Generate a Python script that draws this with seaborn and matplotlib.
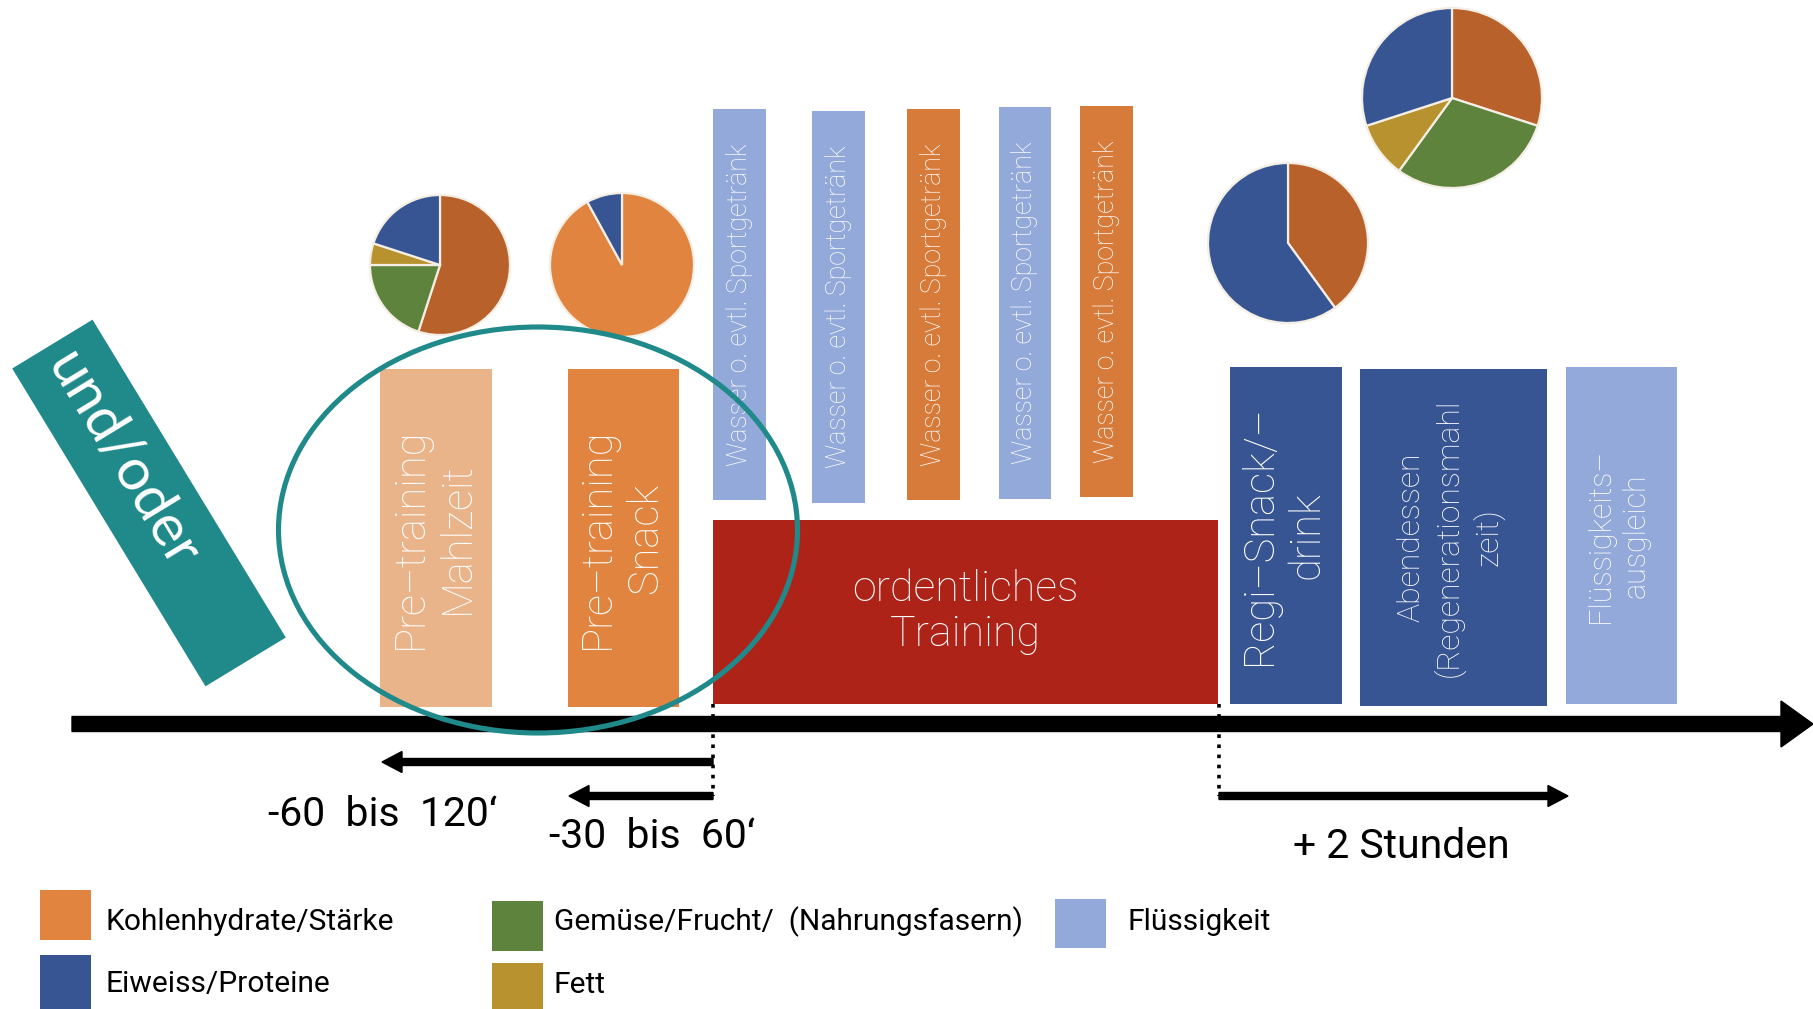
import matplotlib
matplotlib.use("Agg")
import matplotlib.pyplot as plt
from matplotlib.patches import Rectangle, Ellipse
import seaborn as sns

# ---------------------------------------------------------------- data
# Nutrient shares per meal (order: carbohydrates, vegetables/fruit, fat, protein)
pie_mahlzeit = [55, 20, 5, 20]
pie_snack = [92, 8]                 # carbohydrates, protein
pie_regi = [40, 60]                 # carbohydrates, protein
pie_abend = [30, 30, 10, 30]        # carbohydrates, vegetables, fat, protein

pre_labels = ["Pre–training\nMahlzeit", "Pre–training\nSnack"]
drink_label = "Wasser o. evtl. Sportgetränk"
drink_kinds = ["fluid", "fluid", "carb", "fluid", "carb"]
training_label = "ordentliches\nTraining"
post_labels = ["Regi–Snack/–\ndrink",
               "Abendessen\n(Regenerationsmahl\nzeit)",
               "Flüssigkeits–\nausgleich"]
time_labels = ["-60  bis  120‘", "-30  bis  60‘", "+ 2 Stunden"]
legend_labels = ["Kohlenhydrate/Stärke", "Eiweiss/Proteine",
                 "Gemüse/Frucht/  (Nahrungsfasern)", "Fett", "Flüssigkeit"]
banner_label = "und/oder"

# ---------------------------------------------------------------- style
C_CARB = "#E0843F"
C_CARB_DARK = "#B8612A"
C_PROT = "#385593"
C_VEG = "#5E833D"
C_FAT = "#B8922F"
C_FLUID = "#93A9D9"
C_MEAL = "#EAB48A"
C_DRINK_CARB = "#D77B3B"
C_TRAIN = "#AE2318"
C_TEAL = "#20898A"

sns.set_theme(style="white")
plt.rcParams["font.family"] = ["Roboto", "DejaVu Sans"]
LIGHT = "light"

W, H = 1813, 1009
fig = plt.figure(figsize=(W / 100, H / 100), dpi=100)
ax = fig.add_axes([0, 0, 1, 1])


def Y(v):
    """Convert a top-down pixel row to the axis' upward y."""
    return H - v


def box(x0, x1, top, bottom, color, label=None, size=20, rot=90,
        tcolor="white", linespacing=1.1, dx=0):
    ax.bar(x0, bottom - top, width=x1 - x0, bottom=Y(bottom), align="edge",
           color=color, linewidth=0, zorder=2)
    if label is not None:
        ax.text((x0 + x1) / 2 + dx, Y((top + bottom) / 2), label, rotation=rot,
                ha="center", va="center", color=tcolor, fontsize=size,
                fontweight=LIGHT, linespacing=linespacing, zorder=3,
                rotation_mode="anchor")


# ---------------------------------------------------------------- boxes
pre_geom = [(380, 492, 369, 707), (568, 679, 369, 707)]
pre_colors = [C_MEAL, C_CARB]
for (x0, x1, t, b), col, lab in zip(pre_geom, pre_colors, pre_labels):
    box(x0, x1, t, b, col, lab, size=30, linespacing=1.2, dx=-2)

drink_geom = [(713, 766, 109, 500), (812, 865, 111, 503), (907, 960, 109, 500),
              (999, 1051, 107, 499), (1080, 1133, 106, 497)]
for (x0, x1, t, b), kind in zip(drink_geom, drink_kinds):
    col = C_FLUID if kind == "fluid" else C_DRINK_CARB
    box(x0, x1, t, b, col, drink_label, size=19.3)

box(713, 1218, 520, 704, C_TRAIN, training_label, size=31, rot=0,
    linespacing=1.1)

post_geom = [(1230, 1342, 367, 704), (1360, 1547, 369, 706), (1566, 1677, 367, 704)]
post_colors = [C_PROT, C_PROT, C_FLUID]
post_sizes = [30, 23, 22]
post_spacing = [1.2, 1.3, 1.3]
for (x0, x1, t, b), col, lab, s, ls in zip(post_geom, post_colors, post_labels,
                                          post_sizes, post_spacing):
    box(x0, x1, t, b, col, lab, size=s, linespacing=ls, dx=-3)

# ---------------------------------------------------------------- pies
pies = [
    (pie_mahlzeit, [C_CARB_DARK, C_VEG, C_FAT, C_PROT], (440, 265), 70),
    (pie_snack, [C_CARB, C_PROT], (622, 265), 72),
    (pie_regi, [C_CARB_DARK, C_PROT], (1288, 243), 80),
    (pie_abend, [C_CARB_DARK, C_VEG, C_FAT, C_PROT], (1452, 98), 90),
]
for vals, cols, (cx, cy), r in pies:
    ax.pie(vals, colors=cols, startangle=90, counterclock=False,
           center=(cx, Y(cy)), radius=r, frame=True,
           wedgeprops=dict(edgecolor="#F4EEE4", linewidth=1.6, zorder=2))

# ---------------------------------------------------------------- timeline
ax.arrow(72, Y(724), W - 72, 0, width=15, head_width=46, head_length=32,
         length_includes_head=True, color="black", zorder=4)

arrow_kw = dict(width=7, head_width=21, head_length=20,
                length_includes_head=True, color="black", zorder=4)
ax.arrow(713, Y(762), 382 - 713, 0, **arrow_kw)
ax.arrow(713, Y(796), 569 - 713, 0, **arrow_kw)
ax.arrow(1219, Y(796), 1568 - 1219, 0, **arrow_kw)

for xv in (713, 1219):
    ax.plot([xv, xv], [Y(704), Y(796)], color="black", lw=2.6,
            linestyle=(0, (1.0, 1.8)), zorder=4)

time_pos = [(383, 814), (652, 837), (1401, 846)]
for (tx, ty), lab in zip(time_pos, time_labels):
    ax.text(tx, Y(ty), lab, ha="center", va="center", fontsize=29.5,
            fontweight="normal", color="black", zorder=5)

# ---------------------------------------------------------------- highlight ring
ax.add_patch(Ellipse((538, Y(530)), 519, 406, fill=False, edgecolor=C_TEAL,
                     linewidth=3.7, zorder=6))

# ---------------------------------------------------------------- banner
ax.add_patch(Rectangle((149 - 186, Y(503) - 47), 372, 94, angle=-58.7,
                       rotation_point="center", color=C_TEAL, linewidth=0,
                       zorder=3))
ax.text(122, Y(460), banner_label, rotation=-58.7, rotation_mode="anchor",
        ha="center", va="center", color="white", fontsize=42,
        family=["Lato", "DejaVu Sans"], zorder=4)

# ---------------------------------------------------------------- legend
legend_geom = [(40, 890, 91, 940, C_CARB), (40, 955, 91, 1009, C_PROT),
               (492, 901, 543, 951, C_VEG), (492, 963, 543, 1013, C_FAT),
               (1055, 899, 1106, 948, C_FLUID)]
legend_text_pos = [(106, 922), (106, 984), (554, 922), (554, 985), (1128, 922)]
for (x0, t, x1, b, col), (tx, ty), lab in zip(legend_geom, legend_text_pos, legend_labels):
    ax.add_patch(Rectangle((x0, Y(b)), x1 - x0, b - t, color=col, linewidth=0))
    ax.text(tx, Y(ty), lab, ha="left", va="center", fontsize=21.5,
            fontweight="normal", color="black")

ax.set_xlim(0, W)
ax.set_ylim(0, H)
ax.set_aspect("auto")
ax.axis("off")
fig.savefig("out.png", dpi=100, facecolor="white")
